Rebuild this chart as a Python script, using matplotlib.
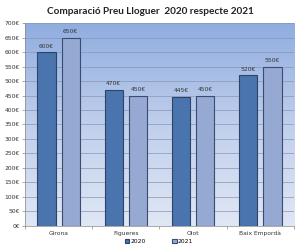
import numpy as np
import matplotlib.pyplot as plt
from matplotlib.colors import LinearSegmentedColormap

categories = ["Girona", "Figueres", "Olot", "Baix Empordà"]
values_2020 = [600, 470, 445, 520]
values_2021 = [650, 450, 450, 550]
series_labels = ["2020", "2021"]
y_ticks = list(range(0, 701, 50))

fig = plt.figure(figsize=(3.0, 2.48), dpi=100)
ax = fig.add_axes([0.083, 0.089, 0.897, 0.818])

# background gradient (darker at top, light at bottom)
cmap = LinearSegmentedColormap.from_list("bg", ["#e0e7f5", "#c0cfec", "#90ade0"])
grad = np.linspace(0, 1, 256).reshape(-1, 1)
ax.imshow(grad, aspect="auto", cmap=cmap, origin="lower",
          extent=[0, 1, 0, 1], transform=ax.transAxes, zorder=0)

x = np.arange(len(categories))
w = 0.27
off = 0.18
b1 = ax.bar(x - off, values_2020, w, color="#4a74ae", edgecolor="#2b4468",
            linewidth=0.8, label=series_labels[0], zorder=3)
b2 = ax.bar(x + off, values_2021, w, color="#95a9d3", edgecolor="#3a4d6e",
            linewidth=0.8, label=series_labels[1], zorder=3)

for bars in (b1, b2):
    for rect in bars:
        h = rect.get_height()
        ax.text(rect.get_x() + rect.get_width() / 2, h + 12, f"{h:.0f}€",
                ha="center", va="bottom", fontsize=4.3, color="#333333", zorder=4)

ax.set_xlim(-0.5, len(categories) - 0.5)
ax.set_ylim(0, 700)
ax.set_yticks(y_ticks)
ax.set_yticklabels([f"{v}€" for v in y_ticks], fontsize=4.3, color="#333333")
ax.set_xticks(x)
ax.set_xticklabels(categories, fontsize=4.3, color="#333333")
ax.tick_params(axis="x", length=0, pad=3.5)
ax.tick_params(axis="y", length=2, width=0.5, color="#888888", pad=1.5)
ax.set_xticks(np.arange(-0.5, len(categories)), minor=True)
ax.tick_params(axis="x", which="minor", length=2, width=0.5, color="#888888")
ax.grid(axis="y", color="#8796b4", linewidth=0.5, zorder=1)
ax.set_axisbelow(True)
for side in ["top", "right"]:
    ax.spines[side].set_visible(False)
ax.spines["left"].set_color("#888888")
ax.spines["bottom"].set_color("#888888")
ax.spines["left"].set_linewidth(0.5)
ax.spines["bottom"].set_linewidth(0.5)

fig.text(0.5, 0.952, "Comparació Preu Lloguer  2020 respecte 2021",
         ha="center", va="center", fontsize=7.2, fontweight="bold",
         family="Lato", color="#222222")

fig.legend(handles=[b1, b2], labels=series_labels, loc="center",
           bbox_to_anchor=(0.53, 0.025), ncol=2, frameon=False, fontsize=4.3,
           handlelength=0.7, handleheight=0.7, handletextpad=0.2, columnspacing=4.5)

fig.savefig("out.png", dpi=100)
